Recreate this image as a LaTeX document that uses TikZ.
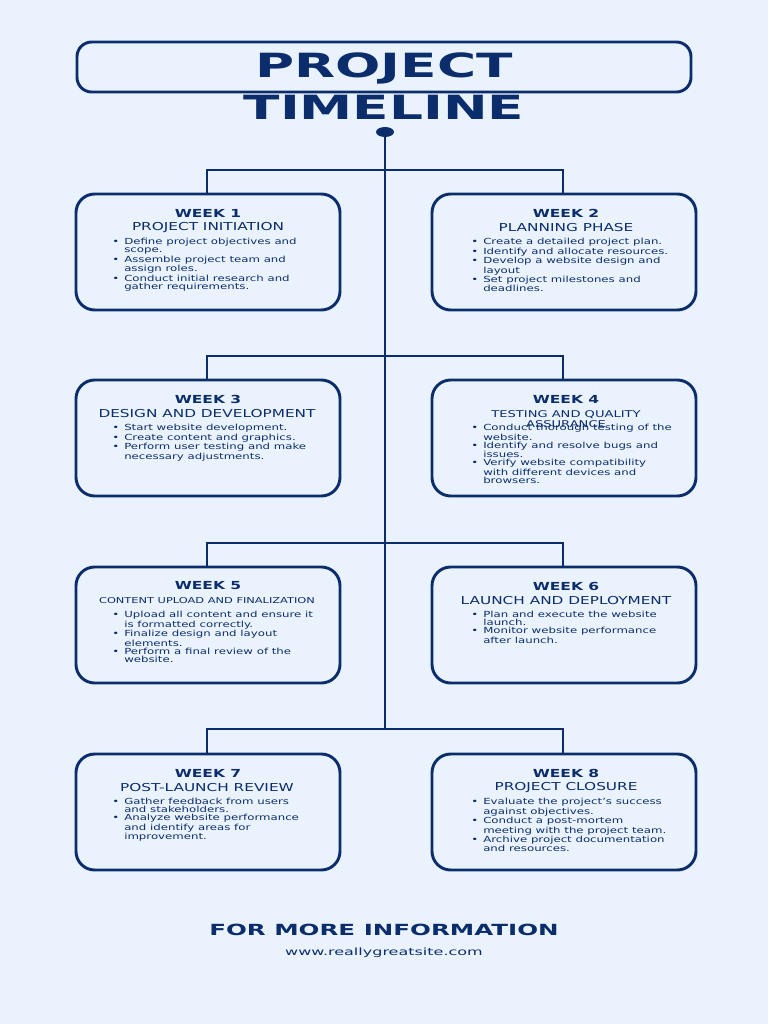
\documentclass[tikz,border=0pt]{standalone}
\usepackage{fontspec}
\setmainfont[FakeStretch=1.4]{DejaVu Sans}
\newfontfamily\widefont[FakeStretch=1.6]{DejaVu Sans}
\definecolor{bg}{HTML}{EAF3FD}
\definecolor{navy}{HTML}{0C2D6B}
\newcommand{\itm}[1]{\makebox[9pt][l]{\textbullet}#1}
\newcommand{\cnt}[1]{\hspace*{9pt}#1}
\begin{document}
\begin{tikzpicture}[x=0.75pt,y=-0.75pt,
  card/.style={draw=navy,line width=2.2pt,rounded corners=14pt,fill=bg},
  conn/.style={draw=navy,line width=2.2pt},
  wk/.style={font=\fontsize{8.3}{9}\selectfont\bfseries,text=navy,inner sep=0},
  sub/.style={font=\fontsize{8.2}{8}\selectfont,text=navy,inner sep=0,align=center},
  bul/.style={font=\fontsize{6.3}{6}\selectfont,text=navy,inner sep=0,align=left,anchor=north west}]
\fill[bg] (0,0) rectangle (768,1024);
\useasboundingbox (0,0) rectangle (768,1024);
% title
\draw[card,rounded corners=11pt] (77,42) rectangle (691,92);
\node[font=\widefont\fontsize{25}{25}\selectfont\bfseries,text=navy,inner sep=0] (t1) at (384,68) {PROJECT};
\node[font=\widefont\fontsize{25}{25}\selectfont\bfseries,text=navy,inner sep=0] (t2) at (384,107) {TIMELINE};
\fill[navy] (385,132) ellipse (9 and 5);
\coordinate (top) at (385,132);
\coordinate (bot) at (385,729);
\draw[conn] (top) -- (bot);
\foreach \y in {170,356,543,729}{
  \draw[conn] (207,\y+24) -- (207,\y) -- (563,\y) -- (563,\y+24);
}
% cards
\foreach \y in {194,380,567,754}{
  \draw[card] (76,\y) rectangle (340,\y+116);
  \draw[card] (432,\y) rectangle (696,\y+116);
}
% week 1
\node[wk] (w1) at (208,213) {WEEK 1};
\node[sub] (s1) at (208,228) {PROJECT INITIATION};
\node[bul] (b1) at (112,238) {\itm{Define project objectives and}\\\cnt{scope.}\\\itm{Assemble project team and}\\\cnt{assign roles.}\\\itm{Conduct initial research and}\\\cnt{gather requirements.}};
% week 2
\node[wk] (w2) at (566,213) {WEEK 2};
\node[sub] (s2) at (566,228) {PLANNING PHASE};
\node[bul] (b2) at (471,238) {\itm{Create a detailed project plan.}\\\itm{Identify and allocate resources.}\\\itm{Develop a website design and}\\\cnt{layout}\\\itm{Set project milestones and}\\\cnt{deadlines.}};
% week 3
\node[wk] (w3) at (208,399) {WEEK 3};
\node[sub] (s3) at (207,414) {DESIGN AND DEVELOPMENT};
\node[bul] (b3) at (112,424) {\itm{Start website development.}\\\itm{Create content and graphics.}\\\itm{Perform user testing and make}\\\cnt{necessary adjustments.}};
% week 4
\node[wk] (w4) at (566,399) {WEEK 4};
\node[sub,font=\fontsize{7}{7.5}\selectfont] (s4) at (566,419) {TESTING AND QUALITY\\ASSURANCE};
\node[bul] (b4) at (471,424) {\itm{Conduct thorough testing of the}\\\cnt{website.}\\\itm{Identify and resolve bugs and}\\\cnt{issues.}\\\itm{Verify website compatibility}\\\cnt{with different devices and}\\\cnt{browsers.}};
% week 5
\node[wk] (w5) at (208,586) {WEEK 5};
\node[sub,font=\fontsize{6.1}{7}\selectfont] (s5) at (207,601) {CONTENT UPLOAD AND FINALIZATION};
\node[bul] (b5) at (112,611) {\itm{Upload all content and ensure it}\\\cnt{is formatted correctly.}\\\itm{Finalize design and layout}\\\cnt{elements.}\\\itm{Perform a final review of the}\\\cnt{website.}};
% week 6
\node[wk] (w6) at (566,586) {WEEK 6};
\node[sub] (s6) at (566,601) {LAUNCH AND DEPLOYMENT};
\node[bul] (b6) at (471,611) {\itm{Plan and execute the website}\\\cnt{launch.}\\\itm{Monitor website performance}\\\cnt{after launch.}};
% week 7
\node[wk] (w7) at (208,773) {WEEK 7};
\node[sub] (s7) at (207,788) {POST-LAUNCH REVIEW};
\node[bul] (b7) at (112,798) {\itm{Gather feedback from users}\\\cnt{and stakeholders.}\\\itm{Analyze website performance}\\\cnt{and identify areas for}\\\cnt{improvement.}};
% week 8
\node[wk] (w8) at (566,773) {WEEK 8};
\node[sub] (s8) at (566,788) {PROJECT CLOSURE};
\node[bul] (b8) at (471,798) {\itm{Evaluate the project's success}\\\cnt{against objectives.}\\\itm{Conduct a post-mortem}\\\cnt{meeting with the project team.}\\\itm{Archive project documentation}\\\cnt{and resources.}};
% footer
\node[font=\widefont\fontsize{11.5}{12}\selectfont\bfseries,text=navy,inner sep=0] (f1) at (384,930) {FOR MORE INFORMATION};
\node[font=\widefont\fontsize{7.5}{8}\selectfont,text=navy,inner sep=0] (f2) at (384,953) {www.reallygreatsite.com};
\end{tikzpicture}
\end{document}
